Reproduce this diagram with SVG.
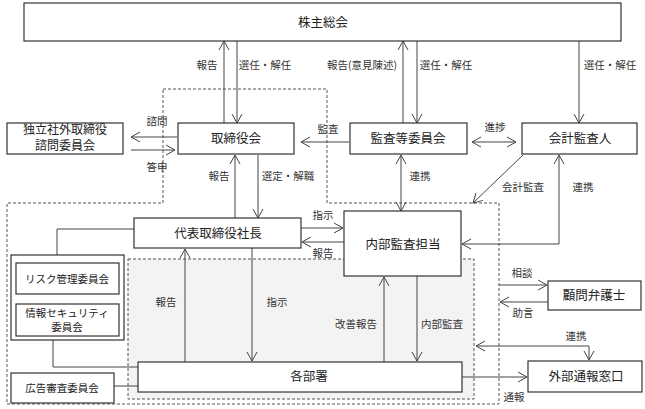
<svg xmlns="http://www.w3.org/2000/svg" width="645" height="409" viewBox="0 0 645 409">
<defs>
<marker id="ah" viewBox="-1 -6 12 12" refX="9" refY="0" markerWidth="12" markerHeight="12" markerUnits="userSpaceOnUse" orient="auto-start-reverse">
<path d="M0,-5 L9,0 L0,5" fill="none" stroke="#444" stroke-width="1"/>
</marker>
<style>
.box{fill:#fff;stroke:#333;stroke-width:1.2}
.t{font-family:"Noto Sans CJK JP","Noto Sans",sans-serif;font-size:12.5px;fill:#222;text-anchor:middle}
.t2{font-family:"Noto Sans CJK JP","Noto Sans",sans-serif;font-size:12px;fill:#222;text-anchor:middle}
.s{font-family:"Noto Sans CJK JP","Noto Sans",sans-serif;font-size:10.5px;fill:#222;text-anchor:middle}
.l{font-family:"Noto Sans CJK JP","Noto Sans",sans-serif;font-size:10.5px;fill:#333;text-anchor:middle}
.c{fill:none;stroke:#444;stroke-width:1}
.a{marker-end:url(#ah)}
.b{marker-start:url(#ah);marker-end:url(#ah)}
.d{fill:none;stroke:#555;stroke-width:1;stroke-dasharray:3,2}
</style>
</defs>

<g id="regions">
<path class="d" d="M163,89 L327,89 L327,203 L499,203 L499,404 L7,404 L7,203 L163,203 Z"/>
<rect x="128" y="259" width="346" height="140" fill="#f3f3f3" stroke="#555" stroke-width="1" stroke-dasharray="3,2"/>
</g>

<g id="connectors">
<line class="c a" x1="224" y1="123" x2="224" y2="41"/>
<line class="c a" x1="237" y1="41" x2="237" y2="123"/>
<line class="c a" x1="403" y1="123" x2="403" y2="41"/>
<line class="c a" x1="417" y1="41" x2="417" y2="123"/>
<line class="c a" x1="579" y1="41" x2="579" y2="123"/>
<line class="c a" x1="177" y1="137" x2="131" y2="137"/>
<line class="c a" x1="131" y1="150" x2="175" y2="150"/>
<line class="c a" x1="349" y1="142" x2="301" y2="142"/>
<line class="c b" x1="472" y1="142" x2="516" y2="142"/>
<line class="c a" x1="235" y1="218" x2="235" y2="155"/>
<line class="c a" x1="258" y1="155" x2="258" y2="218"/>
<line class="c b" x1="401" y1="155" x2="401" y2="211"/>
<line class="c a" x1="523" y1="155" x2="473" y2="203"/>
<path class="c b" d="M559,155 L559,244 L462,244"/>
<line class="c a" x1="301" y1="228" x2="343" y2="228"/>
<line class="c a" x1="344" y1="242" x2="302" y2="242"/>
<line class="c a" x1="185" y1="362" x2="185" y2="249"/>
<line class="c a" x1="252" y1="248" x2="252" y2="361"/>
<line class="c a" x1="384" y1="362" x2="384" y2="277"/>
<line class="c a" x1="417" y1="276" x2="417" y2="361"/>
<path class="c" d="M134,229 L57,229 L57,255"/>
<path class="c" d="M53,340 L53,367 L138,367"/>
<line class="c" x1="114" y1="386" x2="138" y2="386"/>
<line class="c a" x1="499" y1="285" x2="547" y2="285"/>
<line class="c a" x1="548" y1="302" x2="500" y2="302"/>
<path class="c b" d="M476,346 L589,346 L589,360"/>
<line class="c a" x1="462" y1="377" x2="527" y2="377"/>
</g>

<g id="labels">
<text class="l" x="207" y="69">報告</text>
<text class="l" x="265" y="69">選任・解任</text>
<text class="l" x="362" y="69">報告(意見陳述)</text>
<text class="l" x="446" y="69">選任・解任</text>
<text class="l" x="610" y="69">選任・解任</text>
<text class="l" x="157" y="125">諮問</text>
<text class="l" x="157" y="171">答申</text>
<text class="l" x="328" y="133">監査</text>
<text class="l" x="495" y="131">進捗</text>
<text class="l" x="219" y="180">報告</text>
<text class="l" x="288" y="180">選定・解職</text>
<text class="l" x="420" y="180">連携</text>
<text class="l" x="523" y="191">会計監査</text>
<text class="l" x="583" y="191">連携</text>
<text class="l" x="323" y="219">指示</text>
<text class="l" x="323" y="257">報告</text>
<text class="l" x="166" y="306">報告</text>
<text class="l" x="277" y="306">指示</text>
<text class="l" x="356" y="328">改善報告</text>
<text class="l" x="442" y="328">内部監査</text>
<text class="l" x="522" y="277">相談</text>
<text class="l" x="523" y="317">助言</text>
<text class="l" x="576" y="340">連携</text>
<text class="l" x="514" y="401">通報</text>
</g>

<g id="n-shareholders"><rect class="box" x="24" y="3" width="597" height="38"/><text class="t" x="323" y="27">株主総会</text></g>
<g id="n-advisory"><rect class="box" x="7" y="123" width="116" height="31"/><text class="t2" x="65" y="134">独立社外取締役</text><text class="t2" x="65" y="150">諮問委員会</text></g>
<g id="n-board"><rect class="box" x="178" y="123" width="116" height="31"/><text class="t" x="236" y="143">取締役会</text></g>
<g id="n-audit-committee"><rect class="box" x="350" y="123" width="117" height="31"/><text class="t" x="408" y="143">監査等委員会</text></g>
<g id="n-accounting-auditor"><rect class="box" x="522" y="123" width="115" height="31"/><text class="t" x="580" y="143">会計監査人</text></g>
<g id="n-president"><rect class="box" x="134" y="218" width="167" height="30"/><text class="t" x="218" y="238">代表取締役社長</text></g>
<g id="n-internal-audit"><rect class="box" x="344" y="211" width="117" height="65"/><text class="t" x="403" y="249">内部監査担当</text></g>
<g id="n-committees"><rect class="box" x="11" y="255" width="113" height="85"/></g>
<g id="n-risk"><rect class="box" x="16" y="263" width="103" height="31"/><text class="s" x="67" y="283">リスク管理委員会</text></g>
<g id="n-infosec"><rect class="box" x="16" y="304" width="103" height="32"/><text class="s" x="67" y="317">情報セキュリティ</text><text class="s" x="67" y="331">委員会</text></g>
<g id="n-ad-review"><rect class="box" x="11" y="373" width="103" height="30"/><text class="s" x="62" y="392">広告審査委員会</text></g>
<g id="n-departments"><rect class="box" x="138" y="362" width="324" height="30"/><text class="t" x="309" y="381">各部署</text></g>
<g id="n-lawyer"><rect class="box" x="548" y="281" width="93" height="29"/><text class="t" x="594" y="300">顧問弁護士</text></g>
<g id="n-hotline"><rect class="box" x="528" y="361" width="114" height="31"/><text class="t" x="586" y="381">外部通報窓口</text></g>
</svg>
